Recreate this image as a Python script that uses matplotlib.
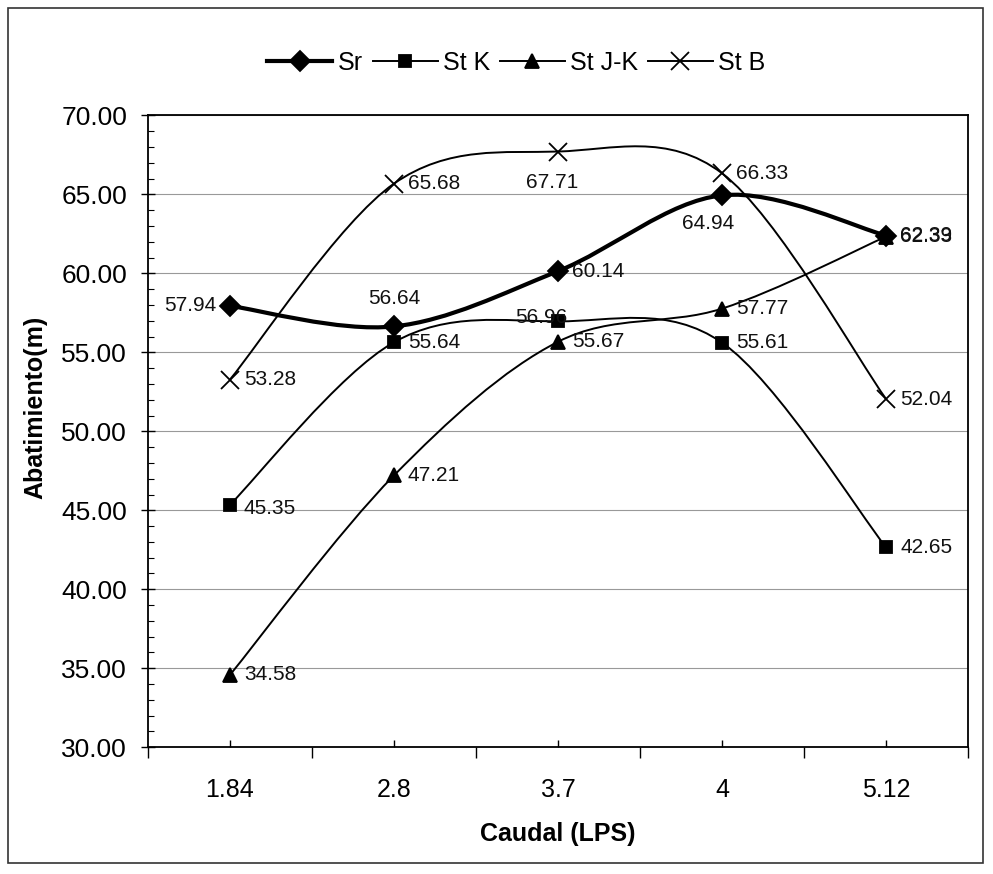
import matplotlib
matplotlib.use("Agg")
import matplotlib.pyplot as plt
import numpy as np
from matplotlib.path import Path
from matplotlib.patches import PathPatch, Rectangle
from matplotlib.lines import Line2D
from matplotlib.ticker import MultipleLocator, FormatStrFormatter

plt.rcParams['font.family'] = ['Liberation Sans', 'DejaVu Sans']

# data
caudal = ['1.84', '2.8', '3.7', '4', '5.12']
sr = [57.94, 56.64, 60.14, 64.94, 62.39]
st_k = [45.35, 55.64, 56.96, 55.61, 42.65]
st_jk = [34.58, 47.21, 55.67, 57.77, 62.33]
st_b = [53.28, 65.68, 67.71, 66.33, 52.04]

# label offsets (points) per series: (dx, dy, ha)
off_sr = [(-10, 0, 'right'), (0, 20, 'center'), (10, 0, 'left'), (-10, -20, 'center'), (10, 0, 'left')]
off_k = [(10, -3, 'left'), (10, 0, 'left'), (-12, 3, 'center'), (10, 0, 'left'), (10, 0, 'left')]
off_jk = [(10, 0, 'left'), (10, 0, 'left'), (10, 0, 'left'), (10, 0, 'left'), (10, 0, 'left')]
off_b = [(10, 0, 'left'), (10, 0, 'left'), (-4, -22, 'center'), (10, 0, 'left'), (10, 0, 'left')]


def smooth_path(xs, ys):
    # Excel-style smoothed line: cubic Bezier through the points
    pts = np.column_stack([xs, ys]).astype(float)
    verts = [pts[0]]
    codes = [Path.MOVETO]
    n = len(pts)
    for i in range(n - 1):
        p0 = pts[i - 1] if i > 0 else pts[i]
        p1 = pts[i]
        p2 = pts[i + 1]
        p3 = pts[i + 2] if i + 2 < n else pts[i + 1]
        c1 = p1 + (p2 - p0) / 6.0
        c2 = p2 - (p3 - p1) / 6.0
        verts += [c1, c2, p2]
        codes += [Path.CURVE4] * 3
    return Path(verts, codes)


fig = plt.figure(figsize=(9.93, 8.74), dpi=100)
fig.patches.append(Rectangle((0.008, 0.013), 0.982, 0.978, transform=fig.transFigure,
                             fill=False, edgecolor='#333333', linewidth=1.2))
ax = fig.add_axes([0.149, 0.145, 0.826, 0.723])

x = np.arange(len(caudal))
series = [
    ('Sr', sr, 'D', 10, 3.0, off_sr),
    ('St K', st_k, 's', 9, 1.4, off_k),
    ('St J-K', st_jk, '^', 10, 1.4, off_jk),
    ('St B', st_b, 'x', 13, 1.4, off_b),
]

handles = []
for name, vals, mk, ms, lw, offs in series:
    ax.add_patch(PathPatch(smooth_path(x, vals), facecolor='none', edgecolor='black',
                           linewidth=lw, zorder=3))
    ax.plot(x, vals, linestyle='none', marker=mk, markersize=ms, color='black',
            markeredgewidth=1.3, zorder=4)
    for xi, v, (dx, dy, ha) in zip(x, vals, offs):
        ax.annotate(f'{v:.2f}', (xi, v), xytext=(dx, dy), textcoords='offset points',
                    ha=ha, va='center', fontsize=15, color='#111111', zorder=5)
    handles.append(Line2D([], [], color='black', linewidth=lw, marker=mk, markersize=ms,
                          markeredgewidth=1.3))

ax.set_xlim(-0.5, len(caudal) - 0.5)
ax.set_ylim(30, 70)
ax.set_xticks(np.arange(-0.5, len(caudal), 1.0))
ax.set_xticklabels([])
ax.set_xticks(x, minor=True)
ax.set_xticklabels(caudal, minor=True)
ax.tick_params(axis='x', which='major', direction='out', length=8, width=1)
ax.tick_params(axis='x', which='minor', direction='in', length=5, width=1, labelsize=18, pad=22)

ax.yaxis.set_major_locator(MultipleLocator(5))
ax.yaxis.set_minor_locator(MultipleLocator(1))
ax.yaxis.set_major_formatter(FormatStrFormatter('%.2f'))
ax.tick_params(axis='y', which='major', direction='inout', length=10, width=1, labelsize=19, pad=10)
ax.tick_params(axis='y', which='minor', direction='in', length=4, width=0.8)

ax.grid(axis='y', which='major', color='#999999', linewidth=0.8)
ax.set_axisbelow(True)
for s in ax.spines.values():
    s.set_linewidth(1.3)

ax.set_xlabel('Caudal (LPS)', fontsize=18, fontweight='bold')
ax.xaxis.set_label_coords(0.5, -0.119)
ax.set_ylabel('Abatimiento(m)', fontsize=18, fontweight='bold')
ax.yaxis.set_label_coords(-0.123, 0.538)

fig.legend(handles, [s[0] for s in series], loc='center', bbox_to_anchor=(0.52, 0.928),
           ncol=4, frameon=False, fontsize=18, handlelength=2.6, handletextpad=0.2,
           columnspacing=0.4)

fig.savefig('out.png', dpi=100)
